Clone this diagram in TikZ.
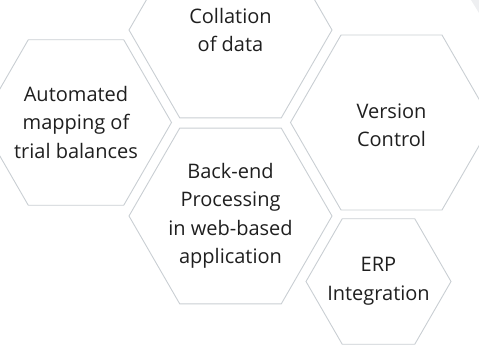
\documentclass[tikz,border=0pt]{standalone}
\usepackage{fontspec}
\setmainfont{Open Sans}
\usepackage{tikz}
\usetikzlibrary{shapes.geometric}
\definecolor{hexline}{HTML}{C9CED3}
\definecolor{hexshade}{HTML}{EEEFF1}
\tikzset{
    hexcell/.style={draw=hexline, line width=0.9pt, regular polygon, regular polygon sides=6, inner sep=0pt, outer sep=0pt},
    hextext/.style={align=center, inner sep=0pt, font=\fontsize{20}{28.5}\selectfont, text=black!88},
    hexbig/.style={hexcell, minimum size=203pt},
    hexmid/.style={hexcell, minimum size=191pt},
    hexsmall/.style={hexcell, minimum size=145pt}
}

\begin{document}
\begin{tikzpicture}[x=1pt, y=-1pt]
        \useasboundingbox (0,0) rectangle (479,347);
        \fill[hexshade] (471,0) -- (479,0) -- (479,13) -- cycle;
        \node[hexbig, label={[hextext]center:Collation\\of data}] (collation) at (230.5,30) {};
        \node[hexmid, label={[hextext]center:Automated\\mapping of\\trial balances}] (mapping) at (76,122.5) {};
        \node[hexbig, label={[hextext]center:Back-end\\Processing\\in web-based\\application}] (backend) at (230.5,216) {};
        \node[hexcell, minimum size=202pt, label={[hextext, yshift=-3pt]center:Version\\Control}] (version) at (391.5,122.5) {};
        \node[hexsmall, label={[hextext]center:ERP\\Integration}] (erp) at (378.5,281.5) {};
    \end{tikzpicture}
\end{document}
